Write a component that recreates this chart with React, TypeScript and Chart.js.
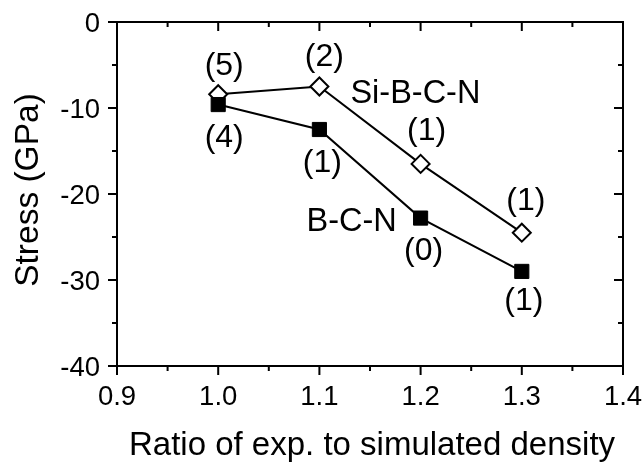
import React, { useEffect, useRef } from "react";
import { Chart, registerables } from "chart.js";

Chart.register(...registerables);

// ---- data ----
const ratios = [1.0, 1.1, 1.2, 1.3];
const bcnStress = [-9.6, -12.5, -22.8, -29.0];
const sibcnStress = [-8.4, -7.5, -16.5, -24.5];
const bcnCounts = ["(4)", "(1)", "(0)", "(1)"];
const sibcnCounts = ["(5)", "(2)", "(1)", "(1)"];
const xMajorTicks = [0.9, 1.0, 1.1, 1.2, 1.3, 1.4];
const xMinorTicks = [0.95, 1.05, 1.15, 1.25, 1.35];
const xTickLabels = ["0.9", "1.0", "1.1", "1.2", "1.3", "1.4"];
const yMajorTicks = [0, -10, -20, -30, -40];
const yMinorTicks = [-5, -15, -25, -35];
const yTickLabels = ["0", "-10", "-20", "-30", "-40"];
const xTitle = "Ratio of exp. to simulated density";
const yTitle = "Stress (GPa)";
const seriesNames = ["B-C-N", "Si-B-C-N"];

// ---- styles / label offsets (pixels) ----
const FONT = '"Liberation Sans", Arial, Helvetica, sans-serif';
const sibcnOffsets = [
  [6, -27],
  [5, -29],
  [6, -32],
  [4, -31],
];
const bcnOffsets = [
  [6, 34],
  [3, 34],
  [3, 34],
  [2, 31],
];

const framePlugin = {
  id: "framePlugin",
  afterDraw(chart: any) {
    const ctx = chart.ctx as CanvasRenderingContext2D;
    const xs = chart.scales.x;
    const ys = chart.scales.y;
    const { left, right, top, bottom } = chart.chartArea;
    ctx.save();
    ctx.strokeStyle = "#000";
    ctx.fillStyle = "#000";
    ctx.lineWidth = 2;
    ctx.lineCap = "butt";
    // frame
    ctx.strokeRect(left, top, right - left, bottom - top);
    const majorLen = 9;
    const minorLen = 5;
    ctx.beginPath();
    xMajorTicks.forEach((v) => {
      const px = xs.getPixelForValue(v);
      ctx.moveTo(px, bottom);
      ctx.lineTo(px, bottom + majorLen);
      ctx.moveTo(px, top);
      ctx.lineTo(px, top + majorLen);
    });
    xMinorTicks.forEach((v) => {
      const px = xs.getPixelForValue(v);
      ctx.moveTo(px, bottom);
      ctx.lineTo(px, bottom + minorLen);
      ctx.moveTo(px, top);
      ctx.lineTo(px, top + minorLen);
    });
    yMajorTicks.forEach((v) => {
      const py = ys.getPixelForValue(v);
      ctx.moveTo(left, py);
      ctx.lineTo(left - majorLen, py);
      ctx.moveTo(right, py);
      ctx.lineTo(right - majorLen, py);
    });
    yMinorTicks.forEach((v) => {
      const py = ys.getPixelForValue(v);
      ctx.moveTo(left, py);
      ctx.lineTo(left - minorLen, py);
      ctx.moveTo(right, py);
      ctx.lineTo(right - minorLen, py);
    });
    ctx.stroke();

    // tick labels
    ctx.font = `27.5px ${FONT}`;
    ctx.textBaseline = "alphabetic";
    ctx.textAlign = "center";
    xMajorTicks.forEach((v, i) => {
      ctx.fillText(xTickLabels[i], xs.getPixelForValue(v), bottom + 39);
    });
    ctx.textAlign = "right";
    yMajorTicks.forEach((v, i) => {
      ctx.fillText(yTickLabels[i], left - 17, ys.getPixelForValue(v) + 10);
    });

    // axis titles
    ctx.font = `33px ${FONT}`;
    ctx.textAlign = "center";
    ctx.fillText(xTitle, (left + right) / 2 + 2, bottom + 89);
    ctx.save();
    ctx.font = `33.5px ${FONT}`;
    ctx.translate(38, (top + bottom) / 2 - 4);
    ctx.rotate(-Math.PI / 2);
    ctx.fillText(yTitle, 0, 0);
    ctx.restore();

    // annotations
    ctx.font = `32px ${FONT}`;
    ctx.textAlign = "center";
    ratios.forEach((r, i) => {
      const px = xs.getPixelForValue(r);
      const pyS = ys.getPixelForValue(sibcnStress[i]);
      const pyB = ys.getPixelForValue(bcnStress[i]);
      ctx.fillText(sibcnCounts[i], px + sibcnOffsets[i][0], pyS + sibcnOffsets[i][1] + 8);
      ctx.fillText(bcnCounts[i], px + bcnOffsets[i][0], pyB + bcnOffsets[i][1] + 8);
    });
    // series names
    ctx.font = `32.5px ${FONT}`;
    const sx = xs.getPixelForValue(ratios[1]);
    const sy = ys.getPixelForValue(sibcnStress[1]);
    ctx.fillText(seriesNames[1], sx + 96, sy + 5 + 11);
    const bx = xs.getPixelForValue(ratios[2]);
    const by = ys.getPixelForValue(bcnStress[2]);
    ctx.fillText(seriesNames[0], bx - 69, by + 2 + 11);
    ctx.restore();
  },
};

export default function App() {
  const ref = useRef<HTMLCanvasElement | null>(null);
  useEffect(() => {
    if (!ref.current) return;
    const chart = new Chart(ref.current, {
      type: "line",
      data: {
        datasets: [
          {
            label: seriesNames[0],
            data: ratios.map((x, i) => ({ x, y: bcnStress[i] })),
            borderColor: "#000",
            borderWidth: 2,
            backgroundColor: "#000",
            pointStyle: "rect",
            pointRadius: 10,
            pointBorderWidth: 1,
            pointBackgroundColor: "#000",
            pointBorderColor: "#000",
            tension: 0,
          },
          {
            label: seriesNames[1],
            data: ratios.map((x, i) => ({ x, y: sibcnStress[i] })),
            borderColor: "#000",
            borderWidth: 2,
            backgroundColor: "#fff",
            pointStyle: "rectRot",
            pointRadius: 9,
            pointBorderWidth: 2,
            pointBackgroundColor: "#fff",
            pointBorderColor: "#000",
            tension: 0,
          },
        ],
      },
      options: {
        responsive: false,
        animation: false,
        layout: { padding: { left: 117, right: 21, top: 22, bottom: 100 } },
        scales: {
          x: { type: "linear", min: 0.9, max: 1.4, display: false },
          y: { type: "linear", min: -40, max: 0, display: false },
        },
        plugins: { legend: { display: false }, tooltip: { enabled: false } },
      },
      plugins: [framePlugin],
    });
    return () => chart.destroy();
  }, []);
  return (
    <div style={{ position: "absolute", left: 0, top: 0, width: 644, height: 466, background: "#fff" }}>
      <canvas ref={ref} width={644} height={466} />
    </div>
  );
}
